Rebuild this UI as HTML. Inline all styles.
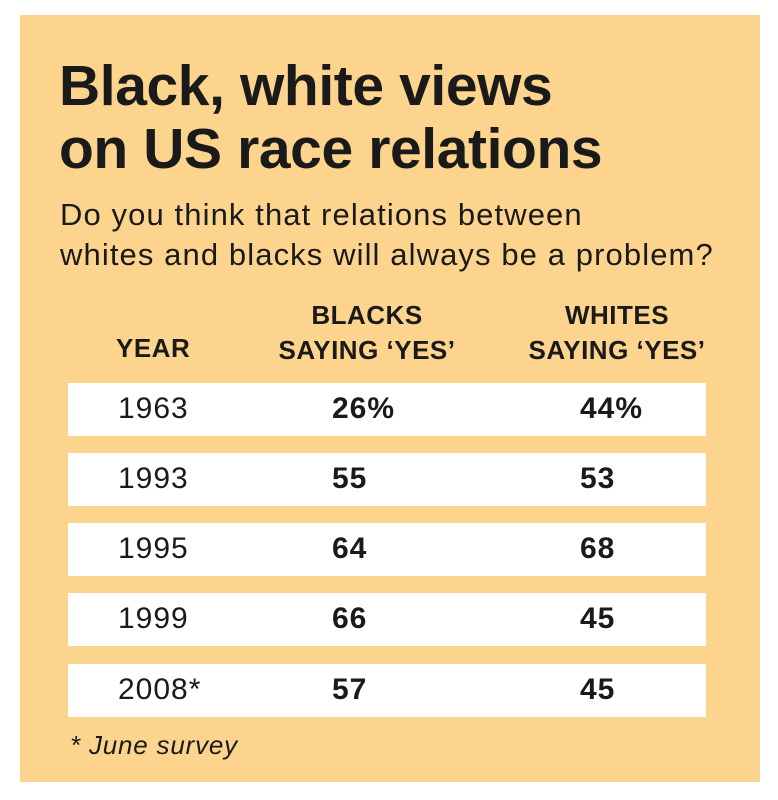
<!DOCTYPE html>
<html><head><style>
body{margin:0;width:778px;height:800px;background:#fff;position:relative;font-family:"Liberation Sans",sans-serif;color:#1a1a1a}
.panel{position:absolute;left:20px;top:15px;width:740px;height:767px;background:#fdd48e}
.t{position:absolute;white-space:nowrap}
.h1{font-weight:bold;font-size:57px;letter-spacing:-0.4px;left:39px}
.sub{font-size:31px;letter-spacing:1.1px;left:40px}
.hd{font-weight:bold;font-size:26px;letter-spacing:0.5px;text-align:center}
.row{position:absolute;left:48px;width:638px;height:53px;background:#fff}
.row span{position:absolute;top:9px;font-size:30px;letter-spacing:1px}
.y{left:50px}
.b{font-weight:bold;left:264px}
.w{font-weight:bold;left:512px}
</style></head><body>
<div class="panel">
<div class="t h1" style="top:38px">Black, white views</div>
<div class="t h1" style="top:101px">on US race relations</div>
<div class="t sub" style="top:182px">Do you think that relations between</div>
<div class="t sub" style="top:222px">whites and blacks will always be a problem?</div>
<div class="t hd" style="left:96px;top:318px">YEAR</div>
<div class="t hd" style="left:242px;top:283px;width:210px;line-height:35px">BLACKS<br>SAYING ‘YES’</div>
<div class="t hd" style="left:492px;top:283px;width:210px;line-height:35px">WHITES<br>SAYING ‘YES’</div>
<div class="row" style="top:368px"><span class="y">1963</span><span class="b">26%</span><span class="w">44%</span></div>
<div class="row" style="top:438px"><span class="y">1993</span><span class="b">55</span><span class="w">53</span></div>
<div class="row" style="top:508px"><span class="y">1995</span><span class="b">64</span><span class="w">68</span></div>
<div class="row" style="top:578px"><span class="y">1999</span><span class="b">66</span><span class="w">45</span></div>
<div class="row" style="top:649px"><span class="y">2008*</span><span class="b">57</span><span class="w">45</span></div>
<div class="t" style="left:50px;top:715px;font-size:26px;letter-spacing:0.8px;font-style:italic">* June survey</div>
</div>
</body></html>
